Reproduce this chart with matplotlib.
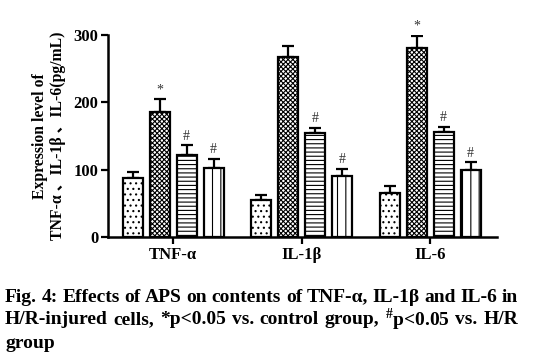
import numpy as np
import matplotlib
matplotlib.use("Agg")
from matplotlib import pyplot as plt

plt.rcParams['font.family'] = ['Liberation Serif', 'Noto Sans CJK SC']
plt.rcParams['hatch.linewidth'] = 0.8
plt.rcParams['mathtext.fontset'] = 'custom'
plt.rcParams['mathtext.rm'] = 'Liberation Serif:bold'

categories = ["TNF-α", "IL-1β", "IL-6"]
control = [87, 55, 66]
control_err = [10, 8, 10]
hr = [185, 268, 280]
hr_err = [20, 16, 19]
aps_low = [122, 155, 156]
aps_low_err = [14, 7, 8]
aps_high = [103, 90, 100]
aps_high_err = [13, 11, 11]
marks = [["", "*", "#", "#"], ["", "", "#", "#"], ["", "*", "#", "#"]]

series = [control, hr, aps_low, aps_high]
errors = [control_err, hr_err, aps_low_err, aps_high_err]
hatches = ['...', 'xxxxxxx', '----', '||']

fig = plt.figure(figsize=(5.59, 3.63), dpi=100)
ax = fig.add_axes([108 / 559, 126 / 363, 389 / 559, 202 / 363])

x = np.arange(len(categories))
width = 0.156
pitch = 0.21
for i, (vals, errs) in enumerate(zip(series, errors)):
    pos = x + (i - 1.5) * pitch
    ax.bar(pos, vals, width, color='white', edgecolor='black', linewidth=1.6,
           hatch=hatches[i], zorder=2)
    ax.errorbar(pos, vals, yerr=[np.zeros(len(errs)), errs], fmt='none',
                ecolor='black', elinewidth=1.6, capsize=4, capthick=1.6, zorder=1)
    for j in range(len(categories)):
        m = marks[j][i]
        if m:
            ax.text(pos[j], vals[j] + errs[j] + 4, m, ha='center', va='bottom',
                    fontsize=10, color='#333333')

ax.set_xlim(-0.506, 2.52)
ax.set_ylim(0, 300)
ax.set_yticks([0, 100, 200, 300])
ax.set_xticks(x)
ax.set_xticklabels(categories)
for lab in ax.get_xticklabels() + ax.get_yticklabels():
    lab.set_fontweight('bold')
    lab.set_fontsize(12)
ax.tick_params(axis='both', width=1.6, length=5, pad=2)
ax.spines['top'].set_visible(False)
ax.spines['right'].set_visible(False)
ax.spines['left'].set_linewidth(1.8)
ax.spines['bottom'].set_linewidth(1.8)
ax.set_ylabel("Expression level of\nTNF-α 、IL-1β 、IL-6(pg/mL)", fontsize=11.3,
              fontweight='bold', labelpad=5, linespacing=1.2)

# caption, first two lines justified to the same width
cap_lines = ["Fig. 4: Effects of APS on contents of TNF-α, IL-1β and IL-6 in",
             "H/R-injured cells, *p<0.05 vs. control group, $^{\\#}$p<0.05 vs. H/R",
             "group"]
x0, x1 = 5, 518
renderer = fig.canvas.get_renderer()
for k, line in enumerate(cap_lines):
    y = 1 - (297 + 23 * k) / 363
    if k == len(cap_lines) - 1:
        fig.text(x0 / 559, y, line, fontsize=14, fontweight='bold', va='center')
        continue
    words = line.split(' ')
    texts = [fig.text(0, y, w, fontsize=14, fontweight='bold', va='center') for w in words]
    widths = [t.get_window_extent(renderer).width for t in texts]
    gap = (x1 - x0 - sum(widths)) / (len(words) - 1)
    pos = x0
    for t, w in zip(texts, widths):
        t.set_x(pos / 559)
        pos += w + gap

fig.savefig("out.png", dpi=100)
